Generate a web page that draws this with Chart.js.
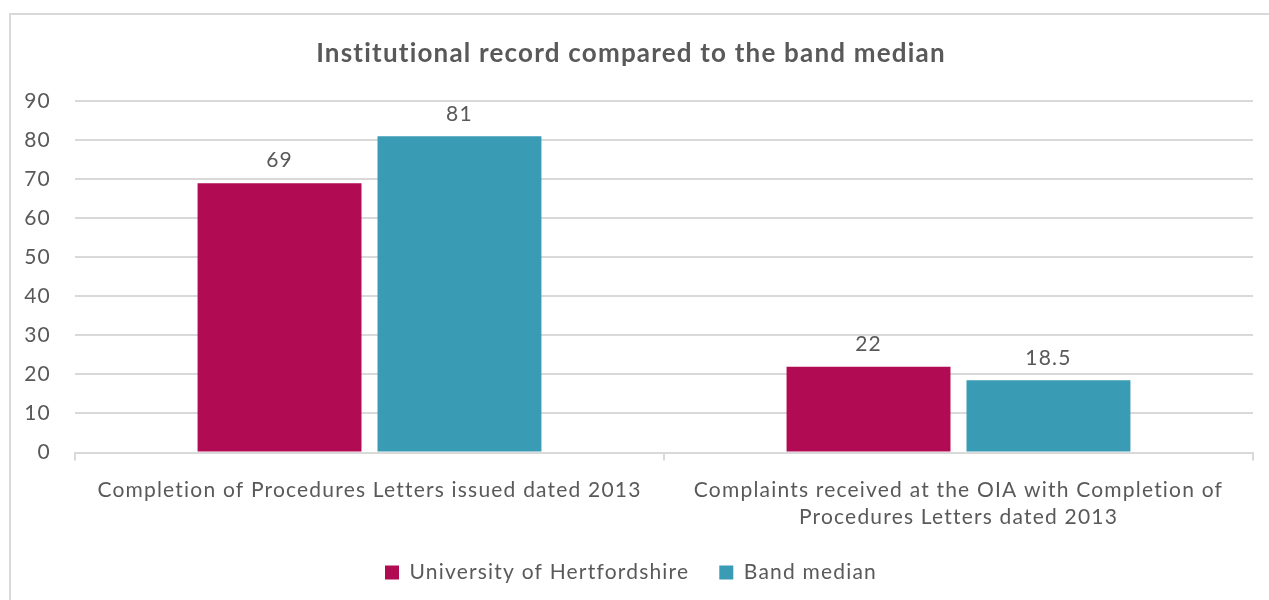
<!DOCTYPE html>
<html lang="en">
<head>
  <meta charset="UTF-8">
  <title>Institutional record compared to the band median</title>
  <script src="https://cdn.jsdelivr.net/npm/chart.js"></script>
  <style>
    html, body { margin: 0; padding: 0; background: #fff; }
    #frame { position: absolute; left: 9px; top: 13px; width: 1300px; height: 640px;
             border: 2px solid #d9d9d9; box-sizing: border-box; }
    #wrap { position: absolute; left: 0; top: 0; width: 1269px; height: 600px; }
  </style>
</head>
<body>
  <div id="frame"></div>
  <div id="wrap"><canvas id="chart"></canvas></div>

  <script>
    const categories = [
      'Completion of Procedures Letters issued dated 2013',
      ['Complaints received at the OIA with Completion of', 'Procedures Letters dated 2013']
    ];
    const herts = [69, 22];
    const bandMedian = [81, 18.5];
    const yTicks = [0, 10, 20, 30, 40, 50, 60, 70, 80, 90];

    const TEXT = '#595959';
    const FONT = 'Lato';
    const SPACING = '1.2px';

    // the original text is set loosely, so widen the tracking a little
    const tracking = {
      id: 'tracking',
      beforeUpdate(chart) { chart.ctx.letterSpacing = SPACING; },
      beforeLayout(chart) { chart.ctx.letterSpacing = SPACING; },
      beforeDraw(chart) { chart.ctx.letterSpacing = SPACING; }
    };

    // draws the value above each bar
    const valueLabels = {
      id: 'valueLabels',
      afterDatasetsDraw(chart) {
        const ctx = chart.ctx;
        ctx.save();
        ctx.fillStyle = TEXT;
        ctx.font = '21px ' + FONT;
        ctx.textAlign = 'center';
        ctx.textBaseline = 'bottom';
        chart.data.datasets.forEach((ds, i) => {
          chart.getDatasetMeta(i).data.forEach((bar, j) => {
            ctx.fillText(String(ds.data[j]), bar.x, bar.y - 12);
          });
        });
        ctx.restore();
      }
    };

    new Chart(document.getElementById('chart'), {
      type: 'bar',
      data: {
        labels: categories,
        datasets: [
          { label: 'University of Hertfordshire', data: herts, backgroundColor: '#b10b54' },
          { label: 'Band median', data: bandMedian, backgroundColor: '#3a9bb5' }
        ]
      },
      options: {
        responsive: true,
        maintainAspectRatio: false,
        animation: false,
        categoryPercentage: 0.611,
        barPercentage: 0.911,
        layout: { padding: { left: 9, right: 16, top: 10, bottom: 7 } },
        plugins: {
          title: {
            display: true,
            text: 'Institutional record compared to the band median',
            color: TEXT,
            font: { family: FONT, size: 26, weight: 'bold' },
            padding: { top: 28, bottom: 32 }
          },
          legend: {
            position: 'bottom',
            labels: {
              color: TEXT,
              font: { family: FONT, size: 21 },
              boxWidth: 14, boxHeight: 14,
              padding: 30
            }
          },
          tooltip: { enabled: false }
        },
        scales: {
          y: {
            min: 0, max: 90,
            afterBuildTicks: (axis) => { axis.ticks = yTicks.map(v => ({ value: v })); },
            afterFit: (axis) => { axis.width = 66; },
            ticks: { color: TEXT, font: { family: FONT, size: 21 }, padding: 24 },
            grid: { color: '#d9d9d9', lineWidth: 2, drawTicks: false },
            border: { display: false }
          },
          x: {
            afterFit: (axis) => { axis.height -= 15; },
            ticks: { color: TEXT, font: { family: FONT, size: 21, lineHeight: 1.25 }, padding: 17, maxRotation: 0 },
            grid: { drawOnChartArea: false, color: '#d9d9d9', lineWidth: 2, tickLength: 8 },
            border: { color: '#d9d9d9', width: 2 }
          }
        }
      },
      plugins: [tracking, valueLabels]
    });
  </script>
</body>
</html>
